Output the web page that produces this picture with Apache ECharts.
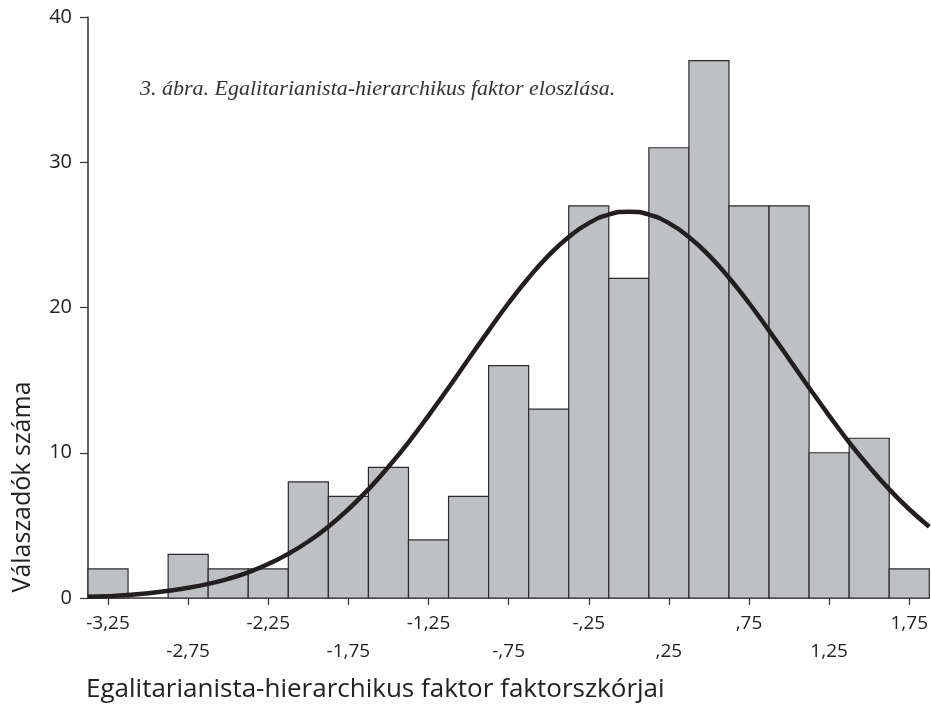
<!DOCTYPE html>
<html>
<head>
<meta charset="utf-8">
<script src="https://cdn.jsdelivr.net/npm/echarts@6/dist/echarts.min.js"></script>
<style>
  html, body { margin: 0; padding: 0; background: #fff; }
  #chart { width: 931px; height: 705px; }
</style>
</head>
<body>
<div id="chart"></div>
<script>
// histogram bins (center of each 0.25-wide bin) and counts
const binCenters = [-3.25, -3.0, -2.75, -2.5, -2.25, -2.0, -1.75, -1.5, -1.25, -1.0, -0.75,
  -0.5, -0.25, 0, 0.25, 0.5, 0.75, 1.0, 1.25, 1.5, 1.75];
const binCounts = [2, 0, 3, 2, 2, 8, 7, 9, 4, 7, 16, 13, 27, 22, 31, 37, 27, 27, 10, 11, 2];
const binWidth = 0.25;

// normal curve
const curveX = [-3.375, -3.25, -3.125, -3.0, -2.875, -2.75, -2.625, -2.5, -2.375, -2.25, -2.125,
  -2.0, -1.875, -1.75, -1.625, -1.5, -1.375, -1.25, -1.125, -1.0, -0.875, -0.75, -0.625,
  -0.5, -0.375, -0.25, -0.125, 0, 0.125, 0.25, 0.375, 0.5, 0.625, 0.75, 0.875, 1.0,
  1.125, 1.25, 1.375, 1.5, 1.625, 1.75, 1.875];
const curveY = [0.08, 0.12, 0.2, 0.33, 0.50, 0.70, 0.97, 1.32, 1.77, 2.34, 3.04,
  3.89, 4.91, 6.11, 7.48, 9.03, 10.72, 12.56, 14.48, 16.46, 18.41, 20.31, 22.05,
  23.59, 24.86, 25.81, 26.40, 26.6, 26.40, 25.81, 24.86, 23.59, 22.05, 20.31, 18.41, 16.46,
  14.48, 12.56, 10.72, 9.03, 7.48, 6.11, 4.91];

const xTicks = [-3.25, -2.75, -2.25, -1.75, -1.25, -0.75, -0.25, 0.25, 0.75, 1.25, 1.75];
const xLabels = ['-3,25', '-2,75', '-2,25', '-1,75', '-1,25', '-,75', '-,25', ',25', ',75', '1,25', '1,75'];

const xTitle = 'Egalitarianista-hierarchikus faktor faktorszkórjai';
const yTitle = 'Válaszadók száma';
const caption = '3. ábra. Egalitarianista-hierarchikus faktor eloszlása.';

const font = '"Open Sans", "Noto Sans", sans-serif';

const chart = echarts.init(document.getElementById('chart'));
chart.setOption({
  animation: false,
  backgroundColor: '#fff',
  grid: { left: 88, right: 1, top: 17, bottom: 107, containLabel: false },
  xAxis: {
    type: 'value',
    min: -3.375,
    max: 1.875,
    axisLine: { show: true, onZero: false, lineStyle: { color: '#333', width: 1.5 } },
    axisTick: { show: true, customValues: xTicks, length: 7, lineStyle: { color: '#333', width: 1.2 } },
    axisLabel: {
      customValues: xTicks,
      margin: 12,
      fontFamily: font,
      fontSize: 19,
      color: '#222',
      lineHeight: 28,
      formatter: function (v) {
        const i = xTicks.indexOf(v);
        const txt = i >= 0 ? xLabels[i] : '';
        return i % 2 === 1 ? '\n' + txt : txt;
      }
    },
    splitLine: { show: false }
  },
  yAxis: {
    type: 'value',
    min: 0,
    max: 40,
    interval: 10,
    axisLine: { show: true, onZero: false, lineStyle: { color: '#333', width: 1.5 } },
    axisTick: { show: true, length: 8, lineStyle: { color: '#333', width: 1.2 } },
    axisLabel: { margin: 16, fontFamily: font, fontSize: 20, color: '#222' },
    splitLine: { show: false }
  },
  graphic: [
    {
      type: 'text', left: 140, top: 78,
      style: { text: caption, font: 'italic 22px "Liberation Serif", "DejaVu Serif", serif', fill: '#333' }
    },
    {
      type: 'text', x: 86, y: 690,
      style: { text: xTitle, font: '26px ' + font, fill: '#222', textVerticalAlign: 'middle' }
    },
    {
      type: 'text', x: 23, y: 487, rotation: Math.PI / 2,
      style: { text: yTitle, font: '25px ' + font, fill: '#222', textAlign: 'center', textVerticalAlign: 'middle' }
    }
  ],
  series: [
    {
      type: 'custom',
      data: binCenters.map((c, i) => [c, binCounts[i]]),
      renderItem: function (params, api) {
        const x = api.value(0), y = api.value(1);
        if (!y) return null;
        const p0 = api.coord([x - binWidth / 2, y]);
        const p1 = api.coord([x + binWidth / 2, 0]);
        return {
          type: 'rect',
          shape: { x: p0[0], y: p0[1], width: p1[0] - p0[0], height: p1[1] - p0[1] },
          style: { fill: '#bfc0c4', stroke: '#2b2b2b', lineWidth: 1.2 }
        };
      },
      z: 2
    },
    {
      type: 'line',
      data: curveX.map((x, i) => [x, curveY[i]]),
      smooth: true,
      showSymbol: false,
      clip: true,
      lineStyle: { color: '#231f20', width: 4.5 },
      z: 3
    }
  ]
});
</script>
</body>
</html>
